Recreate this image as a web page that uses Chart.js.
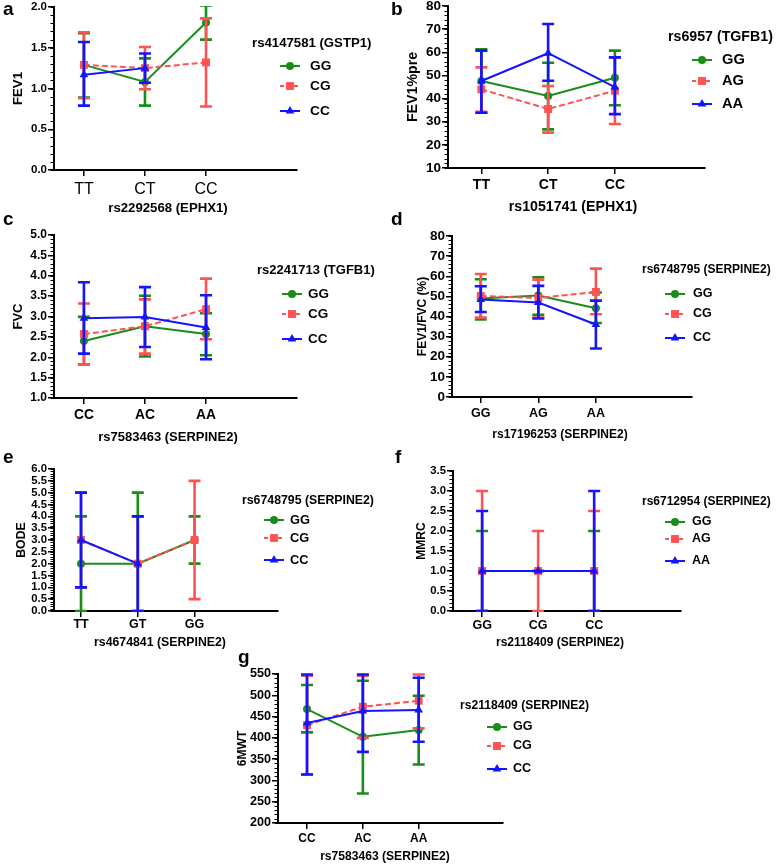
<!DOCTYPE html>
<html>
<head>
<meta charset="utf-8">
<script src="https://cdn.jsdelivr.net/npm/chart.js@4.4.1/dist/chart.umd.min.js"></script>
<style>
  body { margin: 0; background: #fff; }
  #wrap { position: relative; width: 778px; height: 865px; overflow: hidden; }
  #wrap canvas { position: absolute; }
</style>
</head>
<body>
<div id="wrap"></div>
<script>
// a: FEV1
const catsA = ["TT", "CT", "CC"];
const namesA = ["GG", "CG", "CC"];
const ggA = [1.29, 1.08, 1.81];
const ggAErr = [[0.89, 1.68], [0.79, 1.37], [1.6, 2.02]];
const cgA = [1.29, 1.25, 1.32];
const cgAErr = [[0.88, 1.69], [0.99, 1.51], [0.78, 1.86]];
const ccA = [1.17, 1.25, null];
const ccAErr = [[0.79, 1.57], [1.07, 1.43], null];

// b: FEV1%pre
const catsB = ["TT", "CT", "CC"];
const namesB = ["GG", "AG", "AA"];
const ggB = [47.6, 41.1, 49.0];
const ggBErr = [[33.9, 61.3], [26.7, 55.5], [37.1, 60.7]];
const agB = [44.0, 35.5, 43.4];
const agBErr = [[34.3, 53.5], [25.3, 45.4], [29.0, 57.8]];
const aaB = [47.6, 59.6, 44.9];
const aaBErr = [[33.9, 60.7], [47.7, 72.2], [33.3, 57.8]];

// c: FVC
const catsC = ["CC", "AC", "AA"];
const namesC = ["GG", "CG", "CC"];
const ggC = [2.40, 2.76, 2.57];
const ggCErr = [[1.82, 2.99], [2.02, 3.51], [2.05, 3.08]];
const cgC = [2.57, 2.76, 3.18];
const cgCErr = [[1.82, 3.32], [2.09, 3.42], [2.44, 3.93]];
const ccC = [2.96, 2.99, 2.73];
const ccCErr = [[2.09, 3.84], [2.25, 3.72], [1.95, 3.52]];

// d: FEV1/FVC (%)
const catsD = ["GG", "AG", "AA"];
const namesD = ["GG", "CG", "CC"];
const ggD = [48.9, 50.4, 44.1];
const ggDErr = [[38.5, 58.5], [40.9, 59.5], [36.8, 51.9]];
const cgD = [50.2, 49.2, 52.2];
const cgDErr = [[39.5, 61.1], [39.5, 58.3], [41.1, 63.8]];
const ccD = [48.5, 46.9, 36.0];
const ccDErr = [[42.2, 55.0], [39.0, 55.2], [24.1, 47.9]];

// e: BODE
const catsE = ["TT", "GT", "GG"];
const namesE = ["GG", "CG", "CC"];
const ggE = [2, 2, 3];
const ggEErr = [[0, 4], [0, 5], [2, 4]];
const cgE = [3, 2, 3];
const cgEErr = [[1, 5], [0, 4], [0.5, 5.5]];
const ccE = [3, 2, null];
const ccEErr = [[1, 5], [0, 4], null];

// f: MMRC
const catsF = ["GG", "CG", "CC"];
const namesF = ["GG", "AG", "AA"];
const ggF = [1, 1, 1];
const ggFErr = [[0, 2], [1, 1], [0, 2]];
const agF = [1, 1, 1];
const agFErr = [[0, 3], [0, 2], [0, 2.5]];
const aaF = [1, 1, 1];
const aaFErr = [[0, 2.5], [1, 1], [0, 3]];

// g: 6MWT
const catsG = ["CC", "AC", "AA"];
const namesG = ["GG", "CG", "CC"];
const ggG = [467.6, 402.4, 418.2];
const ggGErr = [[412.8, 524.2], [269.2, 534.3], [337.5, 499]];
const cgG = [430, 473, 487.2];
const cgGErr = [[313.9, 546], [400, 546], [422.2, 549]];
const ccG = [434.7, 463, 465.3];
const ccGErr = [[314, 549], [367, 549], [390.7, 541.3]];

const FONT = "'Liberation Sans', Arial, sans-serif";
const GREEN = "#1a8c1a", RED = "#ff5252", BLUE = "#1414ff";
const STYLES = [
  { color: GREEN, point: "circle", radius: 4, dash: [] },
  { color: RED, point: "rect", radius: 5.6, dash: [6, 3] },
  { color: BLUE, point: "triangle", radius: 5, dash: [] },
];

Chart.defaults.font.family = FONT;
Chart.defaults.color = "#000";

function marker(ctx, style, x, y, r) {
  ctx.beginPath();
  if (style === "circle") {
    ctx.arc(x, y, r, 0, Math.PI * 2);
  } else if (style === "rect") {
    const s = r * Math.SQRT1_2;
    ctx.rect(x - s, y - s, 2 * s, 2 * s);
  } else {
    ctx.moveTo(x, y - r);
    ctx.lineTo(x + r * 0.866, y + r * 0.5);
    ctx.lineTo(x - r * 0.866, y + r * 0.5);
    ctx.closePath();
  }
  ctx.fill();
}

function panel(p) {
  const [bx, by, bw, bh] = p.box;
  const [L, T, R, B] = p.area;
  const c = document.createElement("canvas");
  c.width = bw; c.height = bh;
  c.style.left = bx + "px"; c.style.top = by + "px";
  document.getElementById("wrap").appendChild(c);

  const axisGrid = { drawOnChartArea: false, tickLength: 6, color: "#000", lineWidth: 1.5 };
  const axisBorder = { color: "#000", width: 2 };

  const extras = {
    id: "extras" + p.letter,
    beforeDatasetDraw(chart, args) {
      const errs = p.errors[args.index];
      const st = STYLES[args.index];
      const { ctx, chartArea: a, scales: { x, y } } = chart;
      ctx.save();
      ctx.beginPath();
      ctx.rect(a.left, a.top - 1, a.right - a.left, a.bottom - a.top + 2);
      ctx.clip();
      ctx.strokeStyle = st.color;
      ctx.lineWidth = 2.6;
      errs.forEach((e, i) => {
        if (!e) return;
        const px = x.getPixelForValue(i);
        const lo = y.getPixelForValue(e[0]);
        const hi = y.getPixelForValue(e[1]);
        ctx.beginPath();
        ctx.moveTo(px, lo); ctx.lineTo(px, hi);
        ctx.moveTo(px - 6, lo); ctx.lineTo(px + 6, lo);
        ctx.moveTo(px - 6, hi); ctx.lineTo(px + 6, hi);
        ctx.stroke();
      });
      ctx.restore();
    },
    afterDraw(chart) {
      const { ctx, scales: { y } } = chart;
      ctx.save();
      // minor ticks
      ctx.strokeStyle = "#000";
      ctx.lineWidth = 1;
      const n = Math.round((p.ymax - p.ymin) / p.minor);
      for (let k = 0; k <= n; k++) {
        const py = Math.round(y.getPixelForValue(p.ymin + k * p.minor)) + 0.5;
        ctx.beginPath();
        ctx.moveTo(y.right - 3.5, py);
        ctx.lineTo(y.right, py);
        ctx.stroke();
      }
      // x title
      ctx.fillStyle = "#000";
      ctx.textAlign = "center";
      ctx.textBaseline = "middle";
      ctx.font = "bold " + p.fs + "px " + FONT;
      ctx.fillText(p.xTitle, p.xTitlePos[0] - bx, p.xTitlePos[1] - by);
      // legend
      ctx.textAlign = "left";
      ctx.fillText(p.legendTitle, p.legend.x - bx, p.legend.y - by);
      ctx.font = "bold " + (p.fs + 0.5) + "px " + FONT;
      p.names.forEach((name, i) => {
        const st = STYLES[i];
        const cx = p.legend.mx - bx, cy = p.legend.items[i] - by;
        ctx.strokeStyle = st.color;
        ctx.lineWidth = 2;
        ctx.setLineDash(i === 1 ? [4, 3] : []);
        ctx.beginPath();
        ctx.moveTo(cx - 10, cy); ctx.lineTo(cx + 10, cy);
        ctx.stroke();
        ctx.setLineDash([]);
        ctx.fillStyle = st.color;
        marker(ctx, st.point, cx, cy, st.radius);
        ctx.fillStyle = "#000";
        ctx.fillText(name, p.legend.tx - bx, cy);
      });
      // panel letter
      ctx.font = "bold 19px " + FONT;
      ctx.textBaseline = "alphabetic";
      ctx.fillText(p.letter, p.letterPos[0] - bx, p.letterPos[1] - by);
      ctx.restore();
    },
  };

  new Chart(c, {
    type: "line",
    data: {
      datasets: p.values.map((vals, i) => ({
        label: p.names[i],
        data: vals.map((v, k) => ({ x: k, y: v })),
        borderColor: STYLES[i].color,
        backgroundColor: STYLES[i].color,
        borderWidth: 2,
        borderDash: STYLES[i].dash,
        pointStyle: STYLES[i].point,
        pointRadius: STYLES[i].radius,
        pointBorderWidth: 0,
        order: 3 - i,
      })),
    },
    options: {
      responsive: false,
      animation: false,
      events: [],
      layout: { padding: { left: 0, top: T - by, right: bx + bw - R, bottom: 0 } },
      plugins: { legend: { display: false }, tooltip: { enabled: false } },
      scales: {
        x: {
          type: "linear",
          min: p.xmin,
          max: p.xmax,
          afterBuildTicks: (s) => { s.ticks = p.cats.map((c, i) => ({ value: i })); },
          afterFit: (s) => { s.height = by + bh - B; },
          ticks: {
            callback: (v) => p.cats[v] ?? "",
            autoSkip: false,
            maxRotation: 0,
            padding: p.xLabelY - B - 6 - 0.6 * p.xfs,
            font: { size: p.xfs, weight: p.xBold ? "bold" : "normal" },
          },
          grid: axisGrid,
          border: axisBorder,
        },
        y: {
          type: "linear",
          min: p.ymin,
          max: p.ymax,
          afterFit: (s) => { s.width = L - bx; },
          ticks: {
            stepSize: p.step,
            autoSkip: false,
            padding: 1,
            callback: (v) => v.toFixed(p.dec),
            font: { size: p.yfs, weight: "bold" },
          },
          grid: axisGrid,
          border: axisBorder,
          title: {
            display: true,
            text: p.yTitle,
            font: { size: p.fs, weight: "bold" },
            padding: { top: p.yTitleX - bx - 0.6 * p.fs, bottom: 0 },
          },
        },
      },
    },
    plugins: [extras],
  });
}

panel({
  letter: "a", letterPos: [3, 15],
  box: [0, -5, 390, 223], area: [54, 7, 297, 170],
  xmin: -0.49, xmax: 3.49, ymin: 0, ymax: 2, step: 0.5, minor: 0.1, dec: 1,
  cats: catsA, names: namesA, values: [ggA, cgA, ccA], errors: [ggAErr, cgAErr, ccAErr],
  yTitle: "FEV1", xTitle: "rs2292568 (EPHX1)", legendTitle: "rs4147581 (GSTP1)",
  fs: 13.2, yfs: 11.5, xfs: 16, xBold: false,
  xTitlePos: [168, 208], yTitleX: 18, xLabelY: 190,
  legend: { x: 252, y: 43, items: [66, 86, 111], mx: 290, tx: 310 },
});

panel({
  letter: "b", letterPos: [391, 15],
  box: [390, -6, 388, 225], area: [448, 6, 705, 168],
  xmin: -0.5, xmax: 3.35, ymin: 10, ymax: 80, step: 10, minor: 2, dec: 0,
  cats: catsB, names: namesB, values: [ggB, agB, aaB], errors: [ggBErr, agBErr, aaBErr],
  yTitle: "FEV1%pre", xTitle: "rs1051741 (EPHX1)", legendTitle: "rs6957 (TGFB1)",
  fs: 14.2, yfs: 13.5, xfs: 14, xBold: true,
  xTitlePos: [573, 207], yTitleX: 413, xLabelY: 185,
  legend: { x: 668, y: 37, items: [60, 81, 104], mx: 702, tx: 722 },
});

panel({
  letter: "c", letterPos: [3, 225],
  box: [0, 208, 390, 238], area: [54, 235, 297, 398],
  xmin: -0.49, xmax: 3.49, ymin: 1, ymax: 5, step: 0.5, minor: 0.1, dec: 1,
  cats: catsC, names: namesC, values: [ggC, cgC, ccC], errors: [ggCErr, cgCErr, ccCErr],
  yTitle: "FVC", xTitle: "rs7583463 (SERPINE2)", legendTitle: "rs2241713 (TGFB1)",
  fs: 13, yfs: 12, xfs: 13.8, xBold: true,
  xTitlePos: [168, 437], yTitleX: 18, xLabelY: 415,
  legend: { x: 257, y: 270, items: [294, 314, 339], mx: 292, tx: 308 },
});

panel({
  letter: "d", letterPos: [391, 225],
  box: [390, 208, 388, 238], area: [452, 236, 692, 397],
  xmin: -0.5, xmax: 3.67, ymin: 0, ymax: 80, step: 10, minor: 2, dec: 0,
  cats: catsD, names: namesD, values: [ggD, cgD, ccD], errors: [ggDErr, cgDErr, ccDErr],
  yTitle: "FEV1/FVC (%)", xTitle: "rs17196253 (SERPINE2)", legendTitle: "rs6748795 (SERPINE2)",
  fs: 12, yfs: 13.5, xfs: 12.5, xBold: true,
  xTitlePos: [560, 435], yTitleX: 423, xLabelY: 414,
  legend: { x: 642, y: 270, items: [294, 314, 338], mx: 675, tx: 693 },
});

panel({
  letter: "e", letterPos: [3, 463],
  box: [0, 444, 390, 208], area: [54, 469, 278, 611],
  xmin: -0.476, xmax: 3.47, ymin: 0, ymax: 6, step: 0.5, minor: 0.1, dec: 1,
  cats: catsE, names: namesE, values: [ggE, cgE, ccE], errors: [ggEErr, cgEErr, ccEErr],
  yTitle: "BODE", xTitle: "rs4674841 (SERPINE2)", legendTitle: "rs6748795 (SERPINE2)",
  fs: 12.3, yfs: 11.3, xfs: 12.5, xBold: true,
  xTitlePos: [160, 643], yTitleX: 22, xLabelY: 625,
  legend: { x: 242, y: 501, items: [520, 538, 560], mx: 274, tx: 290 },
});

panel({
  letter: "f", letterPos: [395, 463],
  box: [390, 444, 388, 208], area: [453, 471, 681, 611],
  xmin: -0.52, xmax: 3.55, ymin: 0, ymax: 3.5, step: 0.5, minor: 0.1, dec: 1,
  cats: catsF, names: namesF, values: [ggF, agF, aaF], errors: [ggFErr, agFErr, aaFErr],
  yTitle: "MMRC", xTitle: "rs2118409 (SERPINE2)", legendTitle: "rs6712954 (SERPINE2)",
  fs: 12, yfs: 11.3, xfs: 12.5, xBold: true,
  xTitlePos: [560, 643], yTitleX: 422, xLabelY: 626,
  legend: { x: 642, y: 502, items: [522, 539, 561], mx: 675, tx: 692 },
});

panel({
  letter: "g", letterPos: [238, 663],
  box: [200, 647, 400, 218], area: [278, 674, 503, 823],
  xmin: -0.52, xmax: 3.51, ymin: 200, ymax: 550, step: 50, minor: 10, dec: 0,
  cats: catsG, names: namesG, values: [ggG, cgG, ccG], errors: [ggGErr, cgGErr, ccGErr],
  yTitle: "6MWT", xTitle: "rs7583463 (SERPINE2)", legendTitle: "rs2118409 (SERPINE2)",
  fs: 12.1, yfs: 12.6, xfs: 12, xBold: true,
  xTitlePos: [385, 857], yTitleX: 243, xLabelY: 839,
  legend: { x: 460, y: 706, items: [727, 746, 769], mx: 497, tx: 513 },
});
</script>
</body>
</html>
